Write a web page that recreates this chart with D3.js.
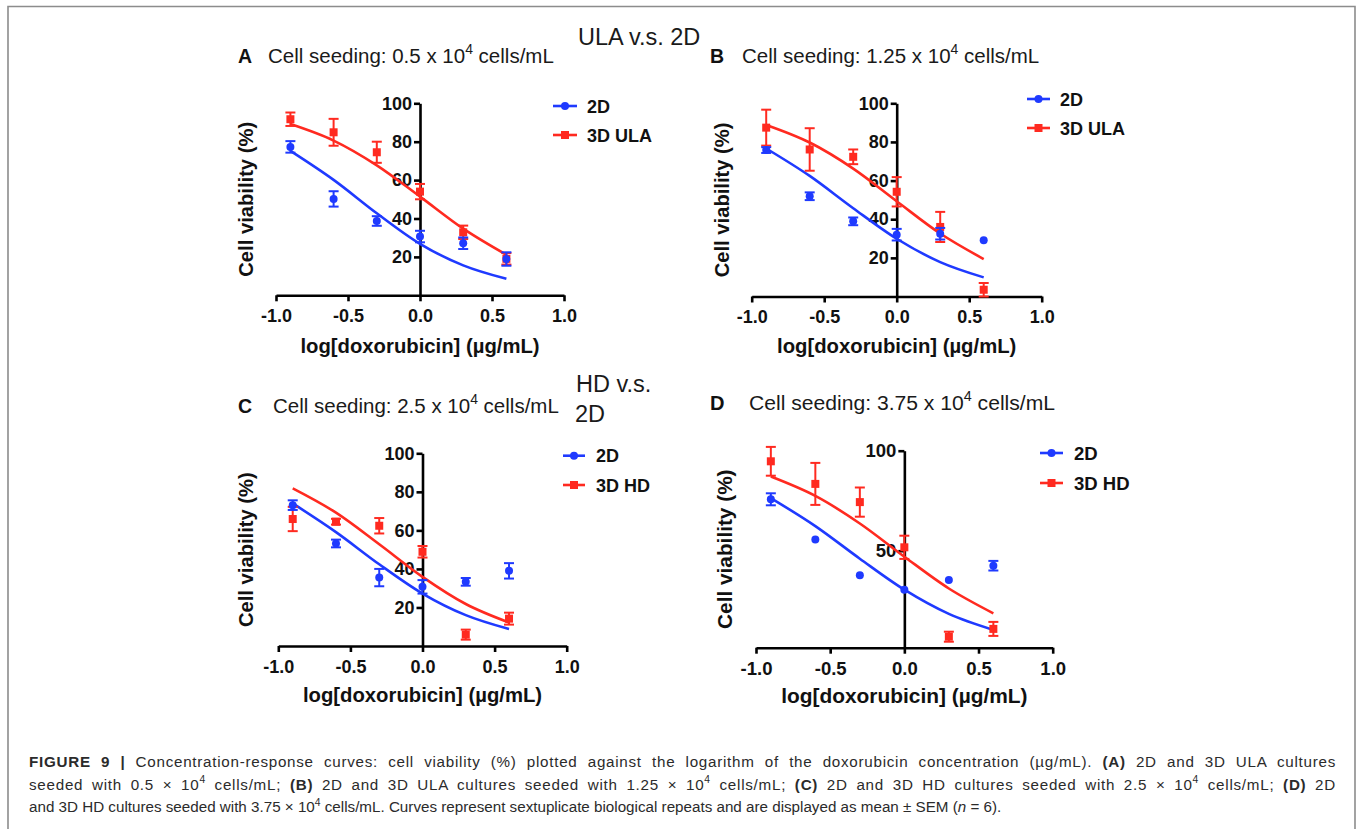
<!DOCTYPE html>
<html>
<head>
<meta charset="utf-8">
<script src="https://cdn.jsdelivr.net/npm/d3@7"></script>
<style>
  html, body { margin: 0; padding: 0; background: #fff; }
  svg { display: block; }
</style>
</head>
<body>
<svg id="fig" width="1357" height="829"></svg>
<script>
// ---- data: log dose (µg/mL) and cell viability (%) ----
const doses = [-0.9, -0.6, -0.3, 0.0, 0.3, 0.6];
const xTicks = [-1.0, -0.5, 0.0, 0.5, 1.0];
const yTicksFull = [20, 40, 60, 80, 100];
const yTicksHalf = [50, 100];

// A: 0.5 x 10^4 cells/mL, 2D vs 3D ULA
const a2dMean = [77.3, 50.2, 38.7, 30.6, 27.1, 18.9];
const a2dSem  = [3.0, 4.0, 2.5, 3.0, 3.0, 3.5];
const a2dFit  = [75.2, 60.1, 42.7, 26.8, 15.6, 8.6];
const a3dMean = [91.7, 84.9, 74.5, 54.0, 32.8, 19.0];
const a3dSem  = [3.5, 7.0, 5.5, 4.0, 3.5, 3.0];
const a3dFit  = [89.2, 80.6, 67.7, 51.4, 34.7, 21.1];

// B: 1.25 x 10^4 cells/mL, 2D vs 3D ULA
const b2dMean = [75.8, 51.9, 38.9, 32.0, 32.5, 29.1];
const b2dSem  = [1.5, 2.0, 2.0, 3.0, 3.0, 0];
const b2dFit  = [76.6, 62.4, 45.7, 29.9, 17.8, 9.9];
const b3dMean = [87.4, 76.1, 72.3, 54.2, 36.0, 3.5];
const b3dSem  = [9.3, 11.0, 3.8, 7.6, 7.8, 3.5];
const b3dFit  = [88.8, 79.7, 66.2, 49.3, 32.6, 19.4];

// C: 2.5 x 10^4 cells/mL, 2D vs 3D HD
const c2dMean = [73.1, 53.2, 35.5, 30.7, 33.3, 39.0];
const c2dSem  = [2.5, 2.0, 4.5, 3.5, 2.0, 4.0];
const c2dFit  = [74.0, 59.1, 42.4, 27.2, 16.0, 8.8];
const c3dMean = [65.9, 64.5, 62.4, 48.9, 5.9, 14.2];
const c3dSem  = [6.3, 1.5, 4.0, 3.0, 2.6, 3.1];
const c3dFit  = [81.8, 69.2, 52.8, 35.9, 21.8, 12.2];

// D: 3.75 x 10^4 cells/mL, 2D vs 3D HD
const d2dMean = [75.7, 55.6, 37.7, 30.5, 35.4, 42.5];
const d2dSem  = [3.0, 0, 0, 0, 0, 2.4];
const d2dFit  = [76.3, 62.3, 46.0, 30.5, 18.4, 10.4];
const d3dMean = [94.7, 83.4, 74.3, 51.7, 7.0, 10.9];
const d3dSem  = [7.2, 10.5, 7.3, 5.8, 2.5, 3.5];
const d3dFit  = [87.1, 77.4, 63.6, 47.0, 31.1, 18.7];

const BLUE = "#1f3aff";
const RED = "#ff2a20";
const FONT = "'Liberation Sans', Arial, Helvetica, sans-serif";

const svg = d3.select("#fig");
svg.append("rect").attr("width", 1357).attr("height", 829).attr("fill", "#fff");

// open frame around the figure
svg.append("path")
  .attr("d", "M8,829 L8,6.5 L1355,6.5 L1355,829")
  .attr("fill", "none").attr("stroke", "#8c8c8c").attr("stroke-width", 1.6);

// write a run of text pieces (bold / superscript / italic) into one <text>
function richText(parent, x, y, pieces, size, color) {
  const t = parent.append("text").attr("x", x).attr("y", y)
    .attr("font-family", FONT).attr("font-size", size).attr("fill", color || "#111");
  let raised = false;
  pieces.forEach(p => {
    const s = t.append("tspan").text(p.t);
    if (p.b) s.attr("font-weight", "bold");
    if (p.i) s.attr("font-style", "italic");
    if (p.sup) {
      s.attr("font-size", size * 0.68).attr("dy", -size * 0.42);
      raised = true;
    } else if (raised) {
      s.attr("dy", size * 0.42);
      raised = false;
    }
  });
  return t;
}

// justify a caption line: half of the slack goes between letters, half between words
function justify(t, x0, x1) {
  const node = t.node();
  const natural = node.getComputedTextLength();
  const text = node.textContent;
  const gaps = (text.match(/ /g) || []).length;
  const slack = (x1 - x0) - natural;
  const ls = 0.5 * slack / text.length;
  t.style("letter-spacing", ls + "px");
  const afterLs = node.getComputedTextLength();
  if (gaps > 0) t.style("word-spacing", ((x1 - x0) - afterLs) / gaps + "px");
}

const panels = [
  { letter: "A", density: "0.5", label3d: "3D ULA",
    m2: a2dMean, s2: a2dSem, f2: a2dFit, m3: a3dMean, s3: a3dSem, f3: a3dFit,
    x0: 276, x1: 564, yb: 295.3, yt: 103.3, yMin: 0, yTicks: yTicksFull, k: 1,
    letterX: 238, titleX: 268, titleY: 63,
    legX1: 553, legX2: 577, legY: [106, 135], legTx: 587,
    yTitleX: 253, xTitleY: 353 },
  { letter: "B", density: "1.25", label3d: "3D ULA",
    m2: b2dMean, s2: b2dSem, f2: b2dFit, m3: b3dMean, s3: b3dSem, f3: b3dFit,
    x0: 751.7, x1: 1041.7, yb: 296.5, yt: 103.3, yMin: 0, yTicks: yTicksFull, k: 1,
    letterX: 710, titleX: 742, titleY: 63,
    legX1: 1027, legX2: 1050, legY: [99, 128], legTx: 1060,
    yTitleX: 729, xTitleY: 353 },
  { letter: "C", density: "2.5", label3d: "3D HD",
    m2: c2dMean, s2: c2dSem, f2: c2dFit, m3: c3dMean, s3: c3dSem, f3: c3dFit,
    x0: 278.3, x1: 566.7, yb: 646, yt: 453.3, yMin: 0, yTicks: yTicksFull, k: 1,
    letterX: 238, titleX: 273, titleY: 413,
    legX1: 563, legX2: 585, legY: [455.7, 485], legTx: 596,
    yTitleX: 253, xTitleY: 702 },
  { letter: "D", density: "3.75", label3d: "3D HD",
    m2: d2dMean, s2: d2dSem, f2: d2dFit, m3: d3dMean, s3: d3dSem, f3: d3dFit,
    x0: 756, x1: 1052.7, yb: 647.7, yt: 450.7, yMin: 1.5, yTicks: yTicksHalf, k: 1.03,
    letterX: 710, titleX: 749, titleY: 410,
    legX1: 1040, legX2: 1063, legY: [453, 483], legTx: 1074,
    yTitleX: 732, xTitleY: 703 }
];

panels.forEach(p => {
  const g = svg.append("g");
  const x = d3.scaleLinear().domain([-1, 1]).range([p.x0, p.x1]);
  const y = d3.scaleLinear().domain([p.yMin, 100]).range([p.yb, p.yt]);
  const k = p.k;

  // panel heading
  g.append("text").attr("x", p.letterX).attr("y", p.titleY)
    .attr("font-family", FONT).attr("font-weight", "bold").attr("font-size", 19.5 * k)
    .attr("fill", "#111").text(p.letter);
  richText(g, p.titleX, p.titleY, [
    { t: "Cell seeding: " + p.density + " x 10" }, { t: "4", sup: true }, { t: " cells/mL" }
  ], 20.5 * k, "#1a1a1a");

  // axes
  const xAxis = d3.axisBottom(x).tickValues(xTicks).tickFormat(d => d.toFixed(1))
    .tickSizeInner(6).tickSizeOuter(0).tickPadding(8);
  const yAxis = d3.axisLeft(y).tickValues(p.yTicks).tickFormat(d => d)
    .tickSizeInner(6).tickSizeOuter(0).tickPadding(2);
  [ [xAxis, `translate(0,${p.yb})`], [yAxis, `translate(${x(0)},0)`] ].forEach(([ax, tr]) => {
    const a = g.append("g").attr("transform", tr).call(ax);
    a.select(".domain").attr("stroke", "#000").attr("stroke-width", 2.6);
    a.selectAll(".tick line").attr("stroke", "#000").attr("stroke-width", 2.6);
    a.selectAll(".tick text").attr("fill", "#111").attr("font-family", FONT)
      .attr("font-weight", "bold").attr("font-size", 18 * k);
  });

  // axis titles
  g.append("text").attr("x", x(0)).attr("y", p.xTitleY).attr("text-anchor", "middle")
    .attr("font-family", FONT).attr("font-weight", "bold").attr("font-size", 20.3 * k)
    .attr("fill", "#111").text("log[doxorubicin] (µg/mL)");
  g.append("text")
    .attr("transform", `translate(${p.yTitleX},${(p.yb + p.yt) / 2}) rotate(-90)`)
    .attr("text-anchor", "middle")
    .attr("font-family", FONT).attr("font-weight", "bold").attr("font-size", 20.2 * k)
    .attr("fill", "#111").text("Cell viability (%)");

  // fitted concentration-response curves
  const line = d3.line().x(d => x(d[0])).y(d => y(d[1])).curve(d3.curveMonotoneX);
  [[p.f2, BLUE], [p.f3, RED]].forEach(([fit, col]) => {
    g.append("path").datum(doses.map((d, i) => [d, fit[i]]))
      .attr("d", line).attr("fill", "none").attr("stroke", col).attr("stroke-width", 2.6);
  });

  // mean ± SEM points; 3D drawn first, 2D on top
  const series = [
    { m: p.m3, s: p.s3, col: RED, shape: "square" },
    { m: p.m2, s: p.s2, col: BLUE, shape: "circle" }
  ];
  series.forEach(sr => {
    const sg = g.append("g");
    doses.forEach((d, i) => {
      const cx = x(d), cy = y(sr.m[i]), e = sr.s[i];
      if (e > 0) {
        const top = y(sr.m[i] + e), bot = y(sr.m[i] - e);
        sg.append("line").attr("x1", cx).attr("x2", cx).attr("y1", top).attr("y2", bot)
          .attr("stroke", sr.col).attr("stroke-width", 2);
        [top, bot].forEach(yy => sg.append("line")
          .attr("x1", cx - 5).attr("x2", cx + 5).attr("y1", yy).attr("y2", yy)
          .attr("stroke", sr.col).attr("stroke-width", 2));
      }
      if (sr.shape === "circle") {
        sg.append("circle").attr("cx", cx).attr("cy", cy).attr("r", 4).attr("fill", sr.col);
      } else {
        sg.append("rect").attr("x", cx - 4).attr("y", cy - 4).attr("width", 8).attr("height", 8)
          .attr("fill", sr.col);
      }
    });
  });

  // legend
  const legend = [
    { name: "2D", col: BLUE, shape: "circle" },
    { name: p.label3d, col: RED, shape: "square" }
  ];
  legend.forEach((L, i) => {
    const ly = p.legY[i], mx = (p.legX1 + p.legX2) / 2;
    g.append("line").attr("x1", p.legX1).attr("x2", p.legX2).attr("y1", ly).attr("y2", ly)
      .attr("stroke", L.col).attr("stroke-width", 2.6);
    if (L.shape === "circle") {
      g.append("circle").attr("cx", mx).attr("cy", ly).attr("r", 4).attr("fill", L.col);
    } else {
      g.append("rect").attr("x", mx - 4).attr("y", ly - 4).attr("width", 8).attr("height", 8)
        .attr("fill", L.col);
    }
    g.append("text").attr("x", p.legTx).attr("y", ly + 6.5)
      .attr("font-family", FONT).attr("font-weight", "bold").attr("font-size", 18 * k)
      .attr("fill", "#111").text(L.name);
  });
});

// group headings
svg.append("text").attr("x", 578).attr("y", 45).attr("font-family", FONT)
  .attr("font-size", 23.5).attr("fill", "#1a1a1a").text("ULA v.s. 2D");
svg.append("text").attr("x", 576).attr("y", 392).attr("font-family", FONT)
  .attr("font-size", 23.5).attr("fill", "#1a1a1a").text("HD v.s.");
svg.append("text").attr("x", 575).attr("y", 422).attr("font-family", FONT)
  .attr("font-size", 23.5).attr("fill", "#1a1a1a").text("2D");

// figure legend (justified column, last line ragged)
const capSize = 15.2;
const capColor = "#2b2b2b";
const capLeft = 29, capRight = 1336;
const cap1 = richText(svg, capLeft, 767, [
  { t: "FIGURE 9 | ", b: true },
  { t: "Concentration-response curves: cell viability (%) plotted against the logarithm of the doxorubicin concentration (µg/mL). " },
  { t: "(A)", b: true }, { t: " 2D and 3D ULA cultures" }
], capSize, capColor);
const cap2 = richText(svg, capLeft, 789.5, [
  { t: "seeded with 0.5 × 10" }, { t: "4", sup: true }, { t: " cells/mL; " },
  { t: "(B)", b: true }, { t: " 2D and 3D ULA cultures seeded with 1.25 × 10" }, { t: "4", sup: true },
  { t: " cells/mL; " }, { t: "(C)", b: true },
  { t: " 2D and 3D HD cultures seeded with 2.5 × 10" }, { t: "4", sup: true },
  { t: " cells/mL; " }, { t: "(D)", b: true }, { t: " 2D" }
], capSize, capColor);
richText(svg, capLeft, 812, [
  { t: "and 3D HD cultures seeded with 3.75 × 10" }, { t: "4", sup: true },
  { t: " cells/mL. Curves represent sextuplicate biological repeats and are displayed as mean ± SEM (" },
  { t: "n", i: true }, { t: " = 6)." }
], capSize, capColor);
justify(cap1, capLeft, capRight);
justify(cap2, capLeft, capRight);
</script>
</body>
</html>
